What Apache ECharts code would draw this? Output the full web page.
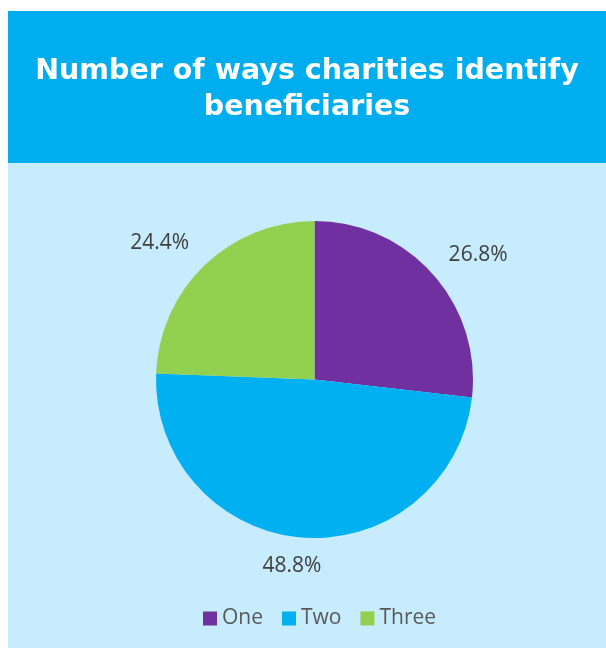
<!DOCTYPE html>
<html>
<head>
<meta charset="utf-8">
<script src="https://cdn.jsdelivr.net/npm/echarts@6/dist/echarts.min.js"></script>
<style>
  html, body { margin: 0; padding: 0; background: #ffffff; }
  #chart { position: absolute; left: 8px; top: 11px; width: 598px; height: 637px; }
</style>
</head>
<body>
<div id="chart"></div>
<script>
// Share of charities by the number of ways they identify beneficiaries
const categories = ['One', 'Two', 'Three'];
const shares = [26.8, 48.8, 24.4];
const colors = ['#7030A0', '#00B0F0', '#92D050'];

// label placement tweaks (leader length / gap from the leader end)
const leaderLength = [28, 29, 31];
const leaderGap = [-5, -21, -6];

const chart = echarts.init(document.getElementById('chart'), null, { renderer: 'canvas' });

const pieData = categories.map((name, i) => ({
  name: name,
  value: shares[i],
  itemStyle: { color: colors[i] },
  labelLine: { show: false, length: leaderLength[i], length2: 0 },
  label: { distanceToLabelLine: leaderGap[i] }
}));

chart.setOption({
  backgroundColor: '#C6ECFD',
  animation: false,
  graphic: [{
    type: 'rect',
    z: -1,
    shape: { x: 0, y: 0, width: 598, height: 152 },
    style: { fill: '#00AEEF' }
  }],
  title: {
    text: 'Number of ways charities identify\nbeneficiaries',
    left: 'center',
    top: 38,
    textStyle: {
      color: '#ffffff',
      fontFamily: 'DejaVu Sans',
      fontWeight: 700,
      fontSize: 28.5,
      lineHeight: 36
    }
  },
  legend: {
    data: categories,
    left: 190,
    top: 592,
    icon: 'rect',
    itemWidth: 14,
    itemHeight: 14,
    itemGap: 19,
    textStyle: { color: '#595959', fontFamily: 'Open Sans', fontSize: 21 }
  },
  series: [{
    type: 'pie',
    center: [306.5, 368.5],
    radius: 158.5,
    startAngle: 90,
    clockwise: true,
    avoidLabelOverlap: false,
    label: {
      show: true,
      position: 'outside',
      formatter: p => p.value.toFixed(1) + '%',
      color: '#404040',
      fontFamily: 'Open Sans',
      fontSize: 21
    },
    emphasis: { disabled: true },
    data: pieData
  }]
});
</script>
</body>
</html>
